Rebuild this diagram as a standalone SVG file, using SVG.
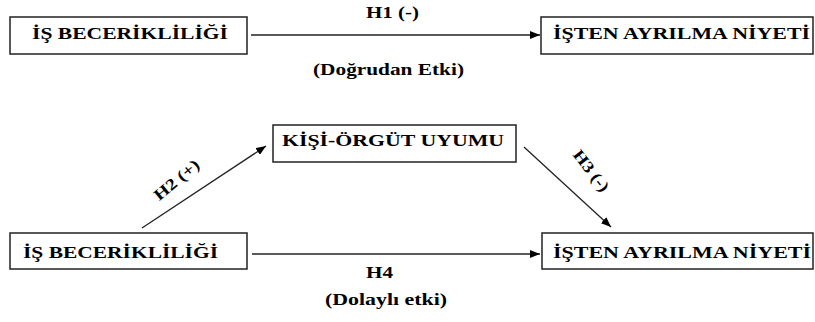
<svg xmlns="http://www.w3.org/2000/svg" width="815" height="322" viewBox="0 0 815 322">
<defs>
<marker id="ah" viewBox="0 0 10 8" refX="10" refY="4" markerWidth="10" markerHeight="8" markerUnits="userSpaceOnUse" orient="auto">
<path d="M0,0 L10,4 L0,8 Z" fill="#000"/>
</marker>
<style>
.box{fill:#fff;stroke:#222;stroke-width:1.5}
.t{font-family:"Liberation Serif","Times New Roman",serif;font-weight:bold;font-size:16px;fill:#000}
.c{stroke:#222;stroke-width:1.3;fill:none;marker-end:url(#ah)}
</style>
</defs>
<rect width="815" height="322" fill="#fff"/>
<g id="connectors">
<line class="c" x1="251" y1="35" x2="540" y2="35"/>
<line class="c" x1="142" y1="228" x2="266" y2="146"/>
<line class="c" x1="524" y1="147" x2="611" y2="227"/>
<line class="c" x1="252" y1="254" x2="540" y2="254"/>
<text class="t" x="366" y="18" textLength="53" lengthAdjust="spacingAndGlyphs">H1 (-)</text>
<text class="t" x="313" y="75" textLength="151" lengthAdjust="spacingAndGlyphs">(Doğrudan Etki)</text>
<text class="t" text-anchor="middle" transform="translate(180,184) rotate(-40)" font-size="17" textLength="54" lengthAdjust="spacingAndGlyphs">H2 (+)</text>
<text class="t" text-anchor="middle" transform="translate(587,174) rotate(52)" font-size="17" textLength="48" lengthAdjust="spacingAndGlyphs">H3 (-)</text>
<text class="t" x="366" y="278" textLength="27" lengthAdjust="spacingAndGlyphs">H4</text>
<text class="t" x="325" y="305" textLength="122" lengthAdjust="spacingAndGlyphs">(Dolaylı etki)</text>
</g>
<g id="n1">
<rect class="box" x="10" y="17" width="237" height="37"/>
<text class="t" x="32" y="39" textLength="196" lengthAdjust="spacingAndGlyphs">İŞ BECERİKLİLİĞİ</text>
</g>
<g id="n2">
<rect class="box" x="541" y="17" width="272" height="37"/>
<text class="t" x="553" y="39" textLength="257" lengthAdjust="spacingAndGlyphs">İŞTEN AYRILMA NİYETİ</text>
</g>
<g id="n3">
<rect class="box" x="273" y="125" width="243" height="37"/>
<text class="t" x="282" y="146" textLength="222" lengthAdjust="spacingAndGlyphs">KİŞİ-ÖRGÜT UYUMU</text>
</g>
<g id="n4">
<rect class="box" x="10" y="233" width="237" height="36"/>
<text class="t" x="23" y="258" textLength="195" lengthAdjust="spacingAndGlyphs">İŞ BECERİKLİLİĞİ</text>
</g>
<g id="n5">
<rect class="box" x="542" y="233" width="271" height="36"/>
<text class="t" x="553" y="258" textLength="258" lengthAdjust="spacingAndGlyphs">İŞTEN AYRILMA NİYETİ</text>
</g>
</svg>
